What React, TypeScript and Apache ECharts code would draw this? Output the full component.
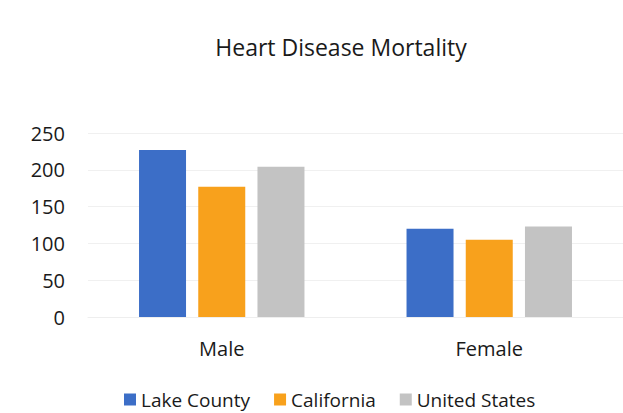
import React, { useEffect, useRef } from "react";
import * as echarts from "echarts";

const categories = ["Male", "Female"];
const seriesNames = ["Lake County", "California", "United States"];
const lakeCounty = [227, 120];
const california = [177, 105];
const unitedStates = [204, 123];
const colors = ["#3C6EC7", "#F8A11C", "#C3C3C3"];

export default function App() {
  const ref = useRef<HTMLDivElement>(null);
  useEffect(() => {
    const chart = echarts.init(ref.current!, null, { renderer: "svg" });
    const font = "'Open Sans', Lato, sans-serif";
    const values = [lakeCounty, california, unitedStates];
    chart.setOption({
      animation: false,
      backgroundColor: "#ffffff",
      textStyle: { fontFamily: font },
      title: {
        text: "Heart Disease Mortality",
        left: 336,
        textAlign: "center",
        top: 30,
        textStyle: { fontFamily: font, fontSize: 23, fontWeight: "normal", color: "#1a1a1a" },
      },
      legend: {
        data: seriesNames,
        left: 119,
        top: 385,
        itemWidth: 12,
        itemHeight: 12,
        itemGap: 24,
        icon: "rect",
        textStyle: { fontFamily: font, fontSize: 19, color: "#1a1a1a" },
      },
      grid: { left: 88, right: -6, top: 133, bottom: 96, containLabel: false },
      xAxis: {
        type: "category",
        data: categories,
        axisLine: { show: true, lineStyle: { color: "#eeeeee" } },
        axisTick: { show: false },
        axisLabel: { fontFamily: font, fontSize: 20, color: "#1a1a1a", margin: 21 },
      },
      yAxis: {
        type: "value",
        min: 0,
        max: 250,
        interval: 50,
        axisLine: { show: false },
        axisTick: { show: false },
        splitLine: { lineStyle: { color: "#f0f0f0" } },
        axisLabel: { fontFamily: font, fontSize: 20, color: "#1a1a1a", margin: 23 },
      },
      series: seriesNames.map((name, i) => ({
        name,
        type: "bar",
        data: values[i],
        barWidth: 47,
        barGap: "26%",
        itemStyle: { color: colors[i] },
      })),
    });
    return () => chart.dispose();
  }, []);
  return <div ref={ref} style={{ width: 623, height: 413, position: "absolute", left: 0, top: 0 }} />;
}
